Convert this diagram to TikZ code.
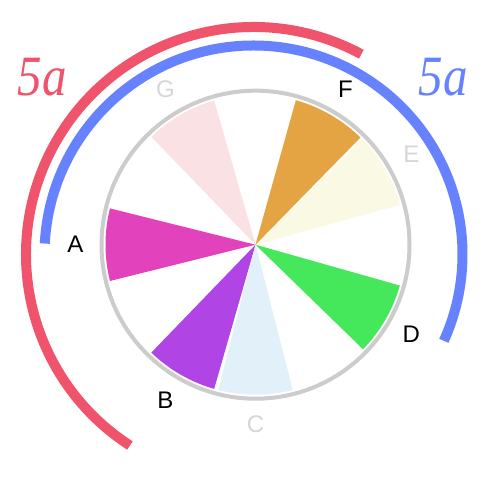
\documentclass[tikz,border=0pt]{standalone}
\usepackage{fontspec}
\setmainfont{Liberation Sans}
\newfontfamily\serifit{Liberation Serif}
\definecolor{colA}{RGB}{226,66,188}
\definecolor{colB}{RGB}{176,68,228}
\definecolor{colC}{RGB}{226,240,250}
\definecolor{colD}{RGB}{68,232,90}
\definecolor{colE}{RGB}{250,250,228}
\definecolor{colF}{RGB}{228,164,68}
\definecolor{colG}{RGB}{250,226,228}
\definecolor{ringgray}{RGB}{204,204,204}
\definecolor{lightlab}{RGB}{214,214,214}
\definecolor{arcred}{RGB}{240,84,108}
\definecolor{arcblue}{RGB}{102,130,255}
\tikzset{
  lab/.style={inner sep=0pt, font=\fontsize{24}{24}\selectfont},
  biglab/.style={inner sep=0pt, font=\serifit\itshape\fontsize{57}{57}\selectfont},
  ring/.style={draw=ringgray, line width=4pt},
  bigarc/.style={line width=10pt, line cap=butt},
}
\newcommand{\wedgeat}[3]{%
  \fill[#2] (0,0) -- (#1-#3:150) arc[start angle=#1-#3, end angle=#1+#3, radius=150] -- cycle;}
\begin{document}
\begin{tikzpicture}[x=1pt,y=1pt]
\useasboundingbox (0,0) rectangle (500,500);
\fill[white] (0,0) rectangle (500,500);
\begin{scope}[shift={(255.5,255.3)}]
  \wedgeat{30}{colE}{14.6}
  \wedgeat{60}{colF}{14.4}
  \wedgeat{120}{colG}{14}
  \wedgeat{180}{colA}{14}
  \wedgeat{240}{colB}{14}
  \wedgeat{270}{colC}{14.4}
  \wedgeat{330}{colD}{14.2}
  \draw[ring] (0,0) circle[radius=154];
  \node[lab, text=lightlab] (lE) at (30:180) {E};
  \node[lab] (lF) at (60:180) {F};
  \node[lab, text=lightlab] (lG) at (120:180) {G};
  \node[lab] (lA) at (180:180) {A};
  \node[lab] (lB) at (240:180) {B};
  \node[lab, text=lightlab] (lC) at (270:180) {C};
  \node[lab] (lD) at (330:180) {D};
\end{scope}
\begin{scope}[shift={(253.5,245.5)}]
  \draw[bigarc, draw=arcred] (61.7:227.5) arc[start angle=61.7, end angle=237.1, radius=227.5];
  \draw[bigarc, draw=arcblue] (177:209) arc[start angle=177, end angle=-24.4, radius=209];
\end{scope}
\node[biglab, text=arcred] (redlab) at (42,422.5) {\scalebox{0.86}[1]{5a}};
\node[biglab, text=arcblue] (bluelab) at (443.5,422.5) {\scalebox{0.86}[1]{5a}};
\end{tikzpicture}
\end{document}
